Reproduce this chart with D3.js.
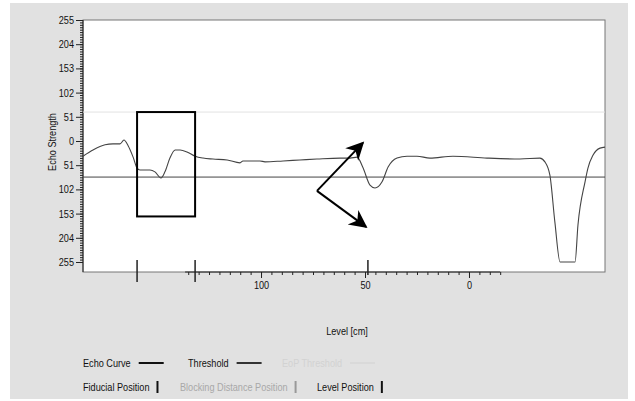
<!DOCTYPE html>
<html>
<head>
<meta charset="utf-8">
<script src="https://cdn.jsdelivr.net/npm/d3@7"></script>
<style>
  body { margin: 0; background: #fff; }
  svg { display: block; }
</style>
</head>
<body>
<div id="chart"></div>
<script>
// echo curve: level [cm] and signed echo strength
const echoLevel = [185.6, 180.8, 175, 171.2, 167.8, 165.9, 163.9, 161.5, 159.6, 158.2, 153.4, 151, 148.1, 146.2,
  143.8, 141.3, 138.9, 135.6, 131.7, 127.9, 123.1, 116.3, 110.1, 108.7, 100.5, 98.1, 89.4, 81.3, 73.1, 62,
  57.2, 53.8, 51, 47.6, 45.2, 41.8, 38.9, 34.6, 29.8, 25, 18.8, 7.7, -8.7, -24.5, -34.1, -36.5, -38.9,
  -41.3, -43.8, -51, -52.4, -55.8, -57.2, -59.6, -63, -65.4];
const echoStrength = [-32, -19, -8, -6, -6, 2, -10, -34, -57, -61, -61, -65, -78, -65,
  -36, -19, -19, -23, -32, -36, -38, -40, -46, -42, -42, -44, -42, -40, -38, -36,
  -36, -34, -56, -93, -99, -86, -55, -36, -32, -32, -36, -32, -36, -38, -36, -44, -72,
  -171, -255, -255, -177, -86, -57, -30, -15, -13];

const thresholdValue = -76;
const eopThresholdValue = 61;
const markerLevels = [159.6, 131.7, 48.6];
const yTickValues = [255, 204, 153, 102, 51, 0, -51, -102, -153, -204, -255];
const xTickLabels = [100, 50, 0];

const legendRow1 = ["Echo Curve", "Threshold", "EoP Threshold"];
const legendRow2 = ["Fiducial Position", "Blocking Distance Position", "Level Position"];

const W = 635, H = 401;
const font = "Arial, 'Liberation Sans', sans-serif";
const plot = { left: 83, top: 20, right: 605, bottom: 272 };

// no narrow font installed, so squeeze the text a bit
function narrow(sel, k = 0.83) {
  sel.each(function () {
    const w = this.getComputedTextLength();
    d3.select(this).attr("textLength", w * k).attr("lengthAdjust", "spacingAndGlyphs");
  });
  return sel;
}

const svg = d3.select("#chart").append("svg")
  .attr("width", W).attr("height", H)
  .style("font-family", font);

svg.append("rect")
  .attr("x", 10).attr("y", 3).attr("width", 618).attr("height", 396)
  .attr("fill", "#e1e1e1");

const x = d3.scaleLinear().domain([185.6, -65.4]).range([plot.left, plot.right]);
const y = d3.scaleLinear().domain([255, -255]).range([20, 262]);

// plot area
svg.append("rect")
  .attr("x", plot.left).attr("y", plot.top)
  .attr("width", plot.right - plot.left).attr("height", plot.bottom - plot.top)
  .attr("fill", "#fff").attr("stroke", "#777");

// y axis with minor ticks
const minor = d3.range(-255, 255.1, 5.1);
svg.append("g").attr("transform", `translate(${plot.left},0)`)
  .call(d3.axisLeft(y).tickValues(minor).tickSize(3).tickFormat(""))
  .call(g => g.select(".domain").remove())
  .call(g => g.selectAll("line").attr("stroke", "#222"));
svg.append("g").attr("transform", `translate(${plot.left},0)`)
  .call(d3.axisLeft(y).tickValues(yTickValues).tickSize(7).tickPadding(2).tickFormat(d => Math.abs(d)))
  .call(g => g.select(".domain").attr("d", `M0,${plot.top}V${plot.bottom}`).attr("stroke", "#222"))
  .call(g => g.selectAll("line").attr("stroke", "#222"))
  .call(g => g.selectAll("text").attr("font-family", font).attr("font-size", 11).attr("fill", "#111").call(narrow));

svg.append("text")
  .attr("transform", "translate(56,142) rotate(-90)")
  .attr("text-anchor", "middle")
  .attr("font-size", 11).attr("fill", "#111")
  .text("Echo Strength")
  .call(narrow);

// x axis only over part of the width
const xa = x.copy().domain([136.5, -15]).range([x(136.5), x(-15)]);
svg.append("g").attr("transform", `translate(0,${plot.bottom})`)
  .call(d3.axisBottom(xa).tickValues(d3.range(135, -15.1, -5)).tickSize(3).tickFormat(""))
  .call(g => g.select(".domain").attr("d", `M${x(136.5)},0H${x(-15)}`).attr("stroke", "#222"))
  .call(g => g.selectAll("line").attr("stroke", "#222"));
svg.append("g").attr("transform", `translate(0,${plot.bottom})`)
  .call(d3.axisBottom(xa).tickValues(xTickLabels).tickSize(6).tickPadding(3))
  .call(g => g.select(".domain").remove())
  .call(g => g.selectAll("line").attr("stroke", "#222"))
  .call(g => g.selectAll("text").attr("font-family", font).attr("font-size", 11).attr("fill", "#111").call(narrow));

svg.append("text")
  .attr("x", 347).attr("y", 335)
  .attr("text-anchor", "middle").attr("font-size", 11).attr("fill", "#111")
  .text("Level [cm]")
  .call(narrow);

// threshold lines
svg.append("line")
  .attr("x1", plot.left).attr("x2", plot.right)
  .attr("y1", y(eopThresholdValue)).attr("y2", y(eopThresholdValue))
  .attr("stroke", "#e2e2e2");
svg.append("line")
  .attr("x1", plot.left).attr("x2", plot.right)
  .attr("y1", y(thresholdValue)).attr("y2", y(thresholdValue))
  .attr("stroke", "#444");

// echo curve
const line = d3.line()
  .x(i => x(echoLevel[i]))
  .y(i => y(echoStrength[i]))
  .curve(d3.curveMonotoneX);
svg.append("path")
  .attr("d", line(d3.range(echoLevel.length)))
  .attr("fill", "none").attr("stroke", "#444").attr("stroke-width", 1.1);

// position markers
markerLevels.forEach((m, i) => {
  svg.append("line")
    .attr("x1", x(m)).attr("x2", x(m))
    .attr("y1", 260).attr("y2", i < 2 ? 282 : 275)
    .attr("stroke", "#222").attr("stroke-width", 1.5);
});

// annotations: box and two arrows
svg.append("rect")
  .attr("x", x(159.6)).attr("y", y(eopThresholdValue))
  .attr("width", x(131.7) - x(159.6)).attr("height", y(-159) - y(eopThresholdValue))
  .attr("fill", "none").attr("stroke", "#000").attr("stroke-width", 2);

const defs = svg.append("defs");
defs.append("marker")
  .attr("id", "head").attr("viewBox", "0 0 10 10")
  .attr("refX", 9).attr("refY", 5)
  .attr("markerWidth", 10).attr("markerHeight", 9)
  .attr("orient", "auto")
  .append("path").attr("d", "M0,0L10,5L0,10L3,5Z").attr("fill", "#000");

const arrowStart = [73.1, -105];
const arrowEnds = [[51.0, -4], [49.5, -181]];
arrowEnds.forEach(e => {
  svg.append("line")
    .attr("x1", x(arrowStart[0])).attr("y1", y(arrowStart[1]))
    .attr("x2", x(e[0])).attr("y2", y(e[1]))
    .attr("stroke", "#000").attr("stroke-width", 2)
    .attr("marker-end", "url(#head)");
});

// legend
const row1X = [83, 188, 282];
const row1Colors = ["#111", "#333", "#d9d9d9"];
legendRow1.forEach((t, i) => {
  const txt = svg.append("text")
    .attr("x", row1X[i]).attr("y", 367)
    .attr("font-size", 11).attr("fill", i === 2 ? "#d2d2d2" : "#111")
    .text(t)
    .call(narrow);
  const w = +txt.attr("textLength");
  svg.append("line")
    .attr("x1", row1X[i] + w + 8).attr("x2", row1X[i] + w + 33)
    .attr("y1", 363).attr("y2", 363)
    .attr("stroke", row1Colors[i]).attr("stroke-width", 2);
});

const row2X = [83, 180, 317];
legendRow2.forEach((t, i) => {
  const c = i === 1 ? "#a8a8a8" : "#111";
  const txt = svg.append("text")
    .attr("x", row2X[i]).attr("y", 391)
    .attr("font-size", 11).attr("fill", c)
    .text(t)
    .call(narrow);
  const w = +txt.attr("textLength");
  svg.append("line")
    .attr("x1", row2X[i] + w + 8).attr("x2", row2X[i] + w + 8)
    .attr("y1", 381).attr("y2", 393)
    .attr("stroke", i === 1 ? "#999" : "#111").attr("stroke-width", 2);
});
</script>
</body>
</html>
